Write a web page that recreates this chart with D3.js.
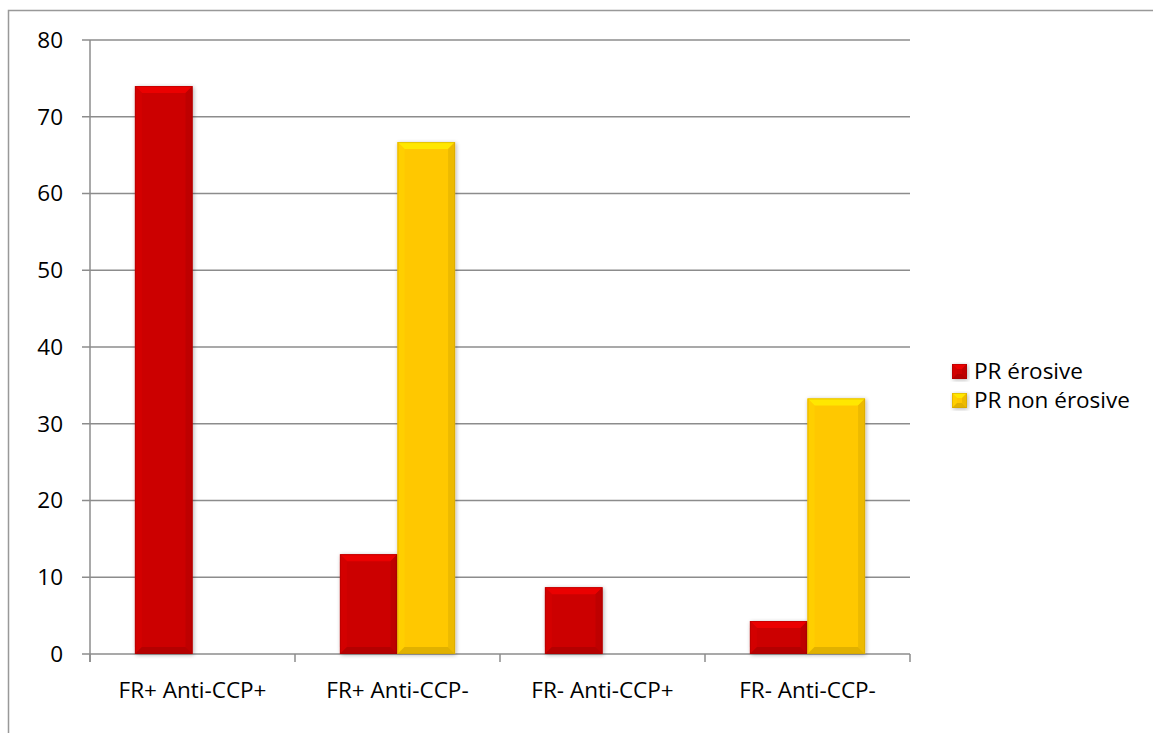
<!DOCTYPE html>
<html><head><meta charset="utf-8">
<script src="https://cdn.jsdelivr.net/npm/d3@7"></script>
<style>html,body{margin:0;padding:0;background:#fff}svg{display:block}</style>
</head><body>
<script>
const categories = ["FR+ Anti-CCP+", "FR+ Anti-CCP-", "FR- Anti-CCP+", "FR- Anti-CCP-"];
const seriesNames = ["PR érosive", "PR non érosive"];
const erosive = [74, 13, 8.7, 4.3];
const nonErosive = [0, 66.7, 0, 33.3];
const yTicks = [0, 10, 20, 30, 40, 50, 60, 70, 80];
const colors = ["#CC0000", "#FFC800"];

const W = 1153, H = 733;
const svg = d3.select("body").append("svg").attr("width", W).attr("height", H);
const font = "'Open Sans', sans-serif";
const fs = 22.5;

// outer border
svg.append("rect").attr("x", 8.5).attr("y", 10.5).attr("width", 1200).attr("height", 800)
  .attr("fill", "none").attr("stroke", "#999").attr("stroke-width", 1.5);

const L = 90, R = 910, T = 40, B = 654;
const x0 = d3.scaleBand().domain(categories).range([L, R]).padding(0);
const x1 = d3.scaleBand().domain(seriesNames).range([0, x0.bandwidth()]).paddingInner(0).paddingOuter(0.78);
const y = d3.scaleLinear().domain([0, 80]).range([B, T]);

// gridlines
svg.append("g").selectAll("line").data(yTicks).join("line")
  .attr("x1", L - 8).attr("x2", R).attr("y1", d => y(d)).attr("y2", d => y(d))
  .attr("stroke", "#8c8c8c").attr("stroke-width", 1.5);
// y axis line
svg.append("line").attr("x1", L).attr("x2", L).attr("y1", T).attr("y2", B + 8)
  .attr("stroke", "#8c8c8c").attr("stroke-width", 1.5);
// x ticks
const xt = categories.map(c => x0(c)).concat([R]);
svg.append("g").selectAll("line").data(xt).join("line")
  .attr("x1", d => d).attr("x2", d => d).attr("y1", B).attr("y2", B + 8)
  .attr("stroke", "#8c8c8c").attr("stroke-width", 1.5);

// y labels
svg.append("g").selectAll("text").data(yTicks).join("text")
  .attr("x", 63).attr("y", d => y(d)).attr("dy", "0.35em").attr("text-anchor", "end")
  .attr("font-family", font).attr("font-size", fs).attr("fill", "#000").text(d => d);
// x labels
svg.append("g").selectAll("text").data(categories).join("text")
  .attr("x", c => x0(c) + x0.bandwidth() / 2).attr("y", 698).attr("text-anchor", "middle")
  .attr("font-family", font).attr("font-size", fs).attr("fill", "#000").text(c => c);

// defs: shadow
const defs = svg.append("defs");
const f = defs.append("filter").attr("id", "sh").attr("x", "-20%").attr("y", "-20%").attr("width", "140%").attr("height", "140%");
f.append("feGaussianBlur").attr("in", "SourceAlpha").attr("stdDeviation", 2).attr("result", "b");
f.append("feOffset").attr("in", "b").attr("dx", 1).attr("dy", 1).attr("result", "o");
f.append("feComponentTransfer").attr("in", "o").attr("result", "o2").append("feFuncA").attr("type", "linear").attr("slope", 0.3);
const m = f.append("feMerge"); m.append("feMergeNode").attr("in", "o2"); m.append("feMergeNode").attr("in", "SourceGraphic");

function bevel(g, x, yTop, w, h, base, bw) {
  const c = d3.color(base);
  const b = Math.min(bw || 7, h / 2, w / 2);
  const gg = g.append("g").attr("filter", "url(#sh)");
  gg.append("rect").attr("x", x).attr("y", yTop).attr("width", w).attr("height", h).attr("fill", base);
  const light = c.brighter(0.4).formatHex(), lighter = c.brighter(0.1).formatHex();
  const dark = c.darker(0.2).formatHex(), darker = c.darker(0.35).formatHex();
  const x2 = x + w, y2 = yTop + h;
  const poly = (pts, fill) => gg.append("polygon").attr("points", pts.map(p => p.join(",")).join(" ")).attr("fill", fill);
  poly([[x, yTop], [x2, yTop], [x2 - b, yTop + b], [x + b, yTop + b]], light);
  poly([[x, yTop], [x + b, yTop + b], [x + b, y2 - b], [x, y2]], lighter);
  poly([[x2, yTop], [x2, y2], [x2 - b, y2 - b], [x2 - b, yTop + b]], dark);
  poly([[x, y2], [x + b, y2 - b], [x2 - b, y2 - b], [x2, y2]], darker);
  gg.append("rect").attr("x", x + 0.5).attr("y", yTop + 0.5).attr("width", w - 1).attr("height", h - 1)
    .attr("fill", "none").attr("stroke", c.darker(0.6).formatHex()).attr("stroke-width", 1).attr("stroke-opacity", 0.5);
}

const bars = svg.append("g");
const series = [erosive, nonErosive];
categories.forEach((c, i) => {
  series.forEach((s, k) => {
    const v = s[i];
    if (v <= 0) return;
    const bx = x0(c) + x1(seriesNames[k]);
    bevel(bars, bx, y(v), x1.bandwidth(), y(0) - y(v), colors[k]);
  });
});

// legend
const leg = svg.append("g");
seriesNames.forEach((n, k) => {
  const yy = k === 0 ? 371 : 400;
  bevel(leg, 952, yy - 7, 15, 15, colors[k], 5);
  leg.append("text").attr("x", 974).attr("y", yy).attr("dy", "0.35em")
    .attr("font-family", font).attr("font-size", fs).attr("fill", "#000").text(n);
});
</script>
</body></html>
